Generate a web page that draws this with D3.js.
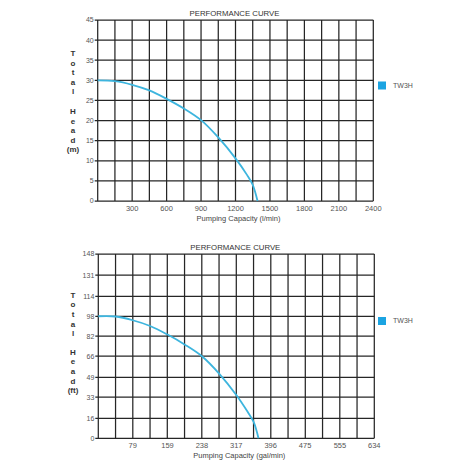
<!DOCTYPE html>
<html><head><meta charset="utf-8">
<script src="https://cdn.jsdelivr.net/npm/d3@7"></script>
<style>body{margin:0;background:#fff}svg{display:block}text{font-family:"Liberation Sans",Arial,sans-serif}</style>
</head><body><svg id="c" width="467" height="467"></svg>
<script>
const title = "PERFORMANCE CURVE";
const seriesName = "TW3H";
// metric chart
const flowLpm = [0,150,300,450,600,750,900,1050,1200,1300,1350,1392];
const headM   = [30,29.8,28.9,27.5,25.4,23.0,20.1,15.8,10.6,6.5,4,0];
const xTicksLpm = [300,600,900,1200,1500,1800,2100,2400];
const yTicksM = [0,5,10,15,20,25,30,35,40,45];
// imperial chart
const flowGpm = [0,40,79,119,159,198,238,278,317,343,357,368];
const headFt  = [98,97.8,94.8,90.2,83.3,75.4,65.9,51.8,34.8,21.3,13,0];
const xTicksGpm = [79,159,238,317,396,475,555,634];
const yTicksFt = [0,16,33,49,66,82,98,114,131,148];

const svg = d3.select("#c");
const curveColor = "#3db5de";
const legendColor = "#1ba4e2";

function drawChart(cfg){
  const g = svg.append("g");
  const x = d3.scaleLinear().domain([0,cfg.xMax]).range([cfg.left,cfg.right]);
  const y = d3.scaleLinear().domain([0,cfg.yMax]).range([cfg.bottom,cfg.top]);
  const nCols = 16;
  const colStep = cfg.xMax/nCols;
  const vx = d3.range(nCols+1).map(i=>i*colStep);
  g.selectAll(".v").data(vx).join("line")
    .attr("x1",d=>x(d)).attr("x2",d=>x(d)).attr("y1",y(cfg.yMax)).attr("y2",y(0))
    .attr("stroke","#262626").attr("stroke-width",1.25);
  g.selectAll(".h").data(cfg.yTicks).join("line")
    .attr("x1",x(0)-3).attr("x2",x(cfg.xMax)).attr("y1",d=>y(d)).attr("y2",d=>y(d))
    .attr("stroke","#262626").attr("stroke-width",1.25);
  g.selectAll(".yl").data(cfg.yTicks).join("text")
    .attr("x",x(0)-4).attr("y",d=>y(d)).attr("dy","0.35em")
    .attr("text-anchor","end").attr("font-size",7).attr("fill","#555").text(d=>d);
  g.selectAll(".xl").data(cfg.xTicks).join("text")
    .attr("x",d=>x(d)).attr("y",cfg.bottom+10)
    .attr("text-anchor","middle").attr("font-size",7.5).attr("fill","#555").text(d=>d);
  g.append("text").attr("x",(cfg.left+cfg.right)/2+3).attr("y",cfg.bottom+20)
    .attr("text-anchor","middle").attr("font-size",7.5).attr("fill","#444").text(cfg.xTitle);
  g.append("text").attr("x",(cfg.left+cfg.right)/2-1).attr("y",cfg.top-4)
    .attr("text-anchor","middle").attr("font-size",7.8).attr("fill","#333").text(title);
  g.selectAll(".yt").data(cfg.yLetters).join("text")
    .attr("x",73).attr("y",(d,i)=>cfg.yTitleTop + i*cfg.yStep + (i>=5?cfg.yGap:0))
    .attr("text-anchor","middle").attr("font-size",8).attr("font-weight","bold").attr("fill","#333")
    .text(d=>d);
  const pts = cfg.flow.map((f,i)=>[f,cfg.head[i]]);
  g.append("path").datum(pts)
    .attr("fill","none").attr("stroke",curveColor).attr("stroke-width",1.8)
    .attr("d",d3.line().x(d=>x(d[0])).y(d=>y(d[1])).curve(d3.curveCatmullRom.alpha(0.5)));
  g.append("rect").attr("x",378).attr("y",cfg.legendY-4).attr("width",8).attr("height",8).attr("fill",legendColor);
  g.append("text").attr("x",393).attr("y",cfg.legendY).attr("dy","0.35em")
    .attr("font-size",7).attr("fill","#555").text(seriesName);
}

drawChart({xMax:2400,yMax:45,left:97.7,right:373.3,top:20,bottom:201,
  xTicks:xTicksLpm,yTicks:yTicksM,flow:flowLpm,head:headM,
  xTitle:"Pumping Capacity (l/min)",yLetters:["T","o","t","a","l","H","e","a","d","(m)"],
  yTitleTop:56,yStep:9.5,yGap:10.5,legendY:85.5});
drawChart({xMax:634,yMax:148,left:98.3,right:374.3,top:254,bottom:438.3,
  xTicks:xTicksGpm,yTicks:yTicksFt,flow:flowGpm,head:headFt,
  xTitle:"Pumping Capacity (gal/min)",yLetters:["T","o","t","a","l","H","e","a","d","(ft)"],
  yTitleTop:297.5,yStep:9.7,yGap:8.5,legendY:321});
</script></body></html>
